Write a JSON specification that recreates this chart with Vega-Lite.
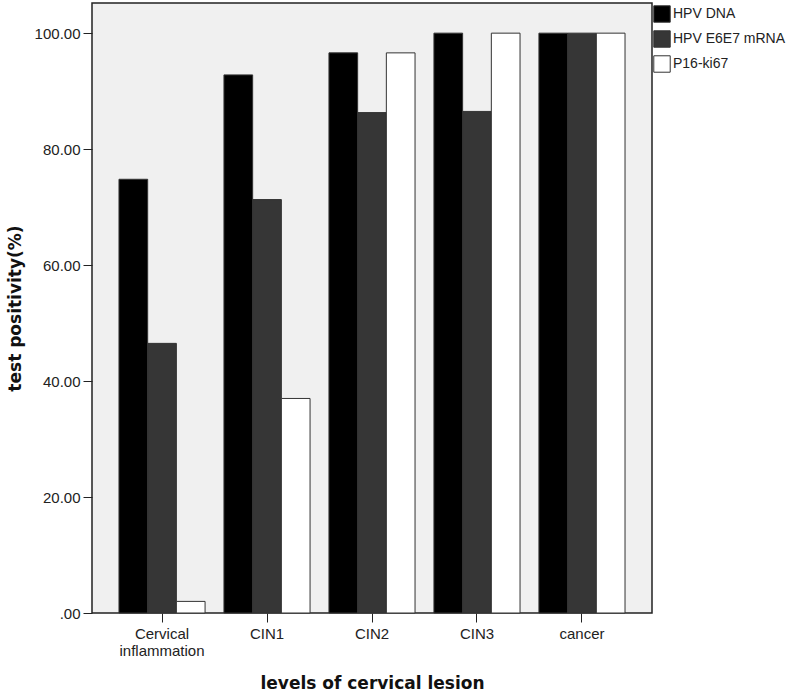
{
  "$schema": "https://vega.github.io/schema/vega-lite/v6.json",
  "autosize": "none",
  "width": 560,
  "height": 610,
  "padding": {"left": 92, "top": 3, "right": 135, "bottom": 79},
  "background": "white",
  "config": {
    "view": {"fill": "#f0f0f0", "stroke": "#222222", "strokeWidth": 1.5},
    "axis": {"labelFont": "Liberation Sans", "labelColor": "#222222", "tickColor": "#222222", "domainColor": "#222222", "titleFont": "DejaVu Sans", "titleFontWeight": "bold", "titleColor": "#111111", "titleFontSize": 17, "labelFontSize": 15, "grid": false}
  },
  "data": {
    "values": [
      {"level": "Cervical inflammation", "test": "HPV DNA", "value": 74.8},
      {"level": "Cervical inflammation", "test": "HPV E6E7 mRNA", "value": 46.5},
      {"level": "Cervical inflammation", "test": "P16-ki67", "value": 2.0},
      {"level": "CIN1", "test": "HPV DNA", "value": 92.8},
      {"level": "CIN1", "test": "HPV E6E7 mRNA", "value": 71.3},
      {"level": "CIN1", "test": "P16-ki67", "value": 37.0},
      {"level": "CIN2", "test": "HPV DNA", "value": 96.6},
      {"level": "CIN2", "test": "HPV E6E7 mRNA", "value": 86.3},
      {"level": "CIN2", "test": "P16-ki67", "value": 96.6},
      {"level": "CIN3", "test": "HPV DNA", "value": 100},
      {"level": "CIN3", "test": "HPV E6E7 mRNA", "value": 86.5},
      {"level": "CIN3", "test": "P16-ki67", "value": 100},
      {"level": "cancer", "test": "HPV DNA", "value": 100},
      {"level": "cancer", "test": "HPV E6E7 mRNA", "value": 100},
      {"level": "cancer", "test": "P16-ki67", "value": 100}
    ]
  },
  "mark": {"type": "bar", "stroke": "#333333", "strokeWidth": 1},
  "encoding": {
    "x": {
      "field": "level",
      "type": "nominal",
      "sort": ["Cervical inflammation", "CIN1", "CIN2", "CIN3", "cancer"],
      "scale": {"paddingInner": 0.18, "paddingOuter": 0.257},
      "axis": {
        "title": "levels of cervical lesion",
        "labelAngle": 0,
        "labelExpr": "datum.label == 'Cervical inflammation' ? ['Cervical', 'inflammation'] : datum.label",
        "labelLineHeight": 17,
        "tickSize": 9,
        "labelPadding": 4,
        "domain": false,
        "titleY": 70,
        "titleBaseline": "middle"
      }
    },
    "xOffset": {"field": "test", "type": "nominal", "sort": ["HPV DNA", "HPV E6E7 mRNA", "P16-ki67"], "scale": {"paddingInner": 0, "paddingOuter": 0}},
    "y": {
      "field": "value",
      "type": "quantitative",
      "scale": {"domain": [0, 105.2], "nice": false},
      "axis": {
        "title": "test positivity(%)",
        "values": [0, 20, 40, 60, 80, 100],
        "labelExpr": "datum.value == 0 ? '.00' : format(datum.value, '.2f')",
        "tickSize": 9,
        "labelPadding": 3,
        "domain": false,
        "titleX": -77,
        "titleBaseline": "middle"
      }
    },
    "color": {
      "field": "test",
      "type": "nominal",
      "sort": ["HPV DNA", "HPV E6E7 mRNA", "P16-ki67"],
      "scale": {"domain": ["HPV DNA", "HPV E6E7 mRNA", "P16-ki67"], "range": ["#000000", "#363636", "#ffffff"]},
      "legend": {
        "title": null,
        "orient": "none",
        "legendX": 561,
        "legendY": 2,
        "padding": 0,
        "symbolType": "square",
        "symbolSize": 270,
        "symbolStrokeColor": "#333333",
        "symbolStrokeWidth": 1,
        "labelFont": "Liberation Sans",
        "labelFontSize": 14,
        "labelColor": "#222222",
        "labelOffset": 2,
        "rowPadding": 3
      }
    }
  }
}
